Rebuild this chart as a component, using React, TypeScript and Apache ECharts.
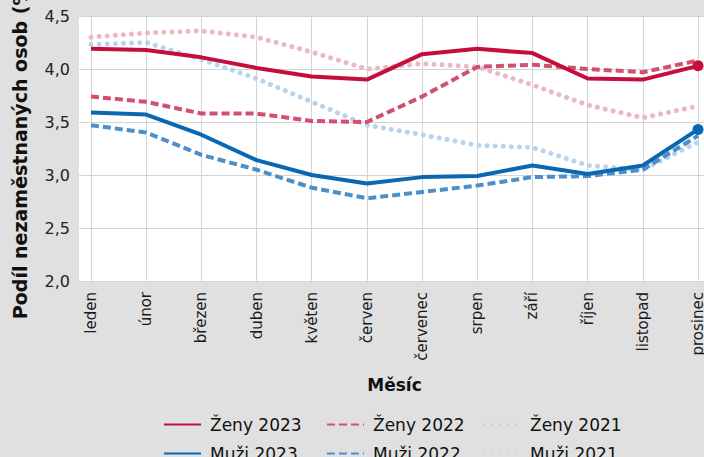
import React, { useEffect, useRef } from "react";
import * as echarts from "echarts";

const months = ["leden", "únor", "březen", "duben", "květen", "červen", "červenec", "srpen", "září", "říjen", "listopad", "prosinec"];
const zeny2023 = [4.19, 4.18, 4.11, 4.01, 3.93, 3.90, 4.14, 4.19, 4.15, 3.91, 3.90, 4.03];
const zeny2022 = [3.74, 3.69, 3.58, 3.58, 3.51, 3.50, 3.74, 4.02, 4.04, 4.00, 3.97, 4.08];
const zeny2021 = [4.30, 4.34, 4.36, 4.30, 4.16, 4.00, 4.05, 4.02, 3.85, 3.66, 3.54, 3.65];
const muzi2023 = [3.59, 3.57, 3.38, 3.14, 3.00, 2.92, 2.98, 2.99, 3.09, 3.01, 3.09, 3.43];
const muzi2022 = [3.47, 3.40, 3.19, 3.05, 2.88, 2.78, 2.84, 2.90, 2.98, 2.99, 3.05, 3.37];
const muzi2021 = [4.23, 4.25, 4.09, 3.91, 3.69, 3.47, 3.38, 3.28, 3.26, 3.09, 3.05, 3.31];
const yTicks = { min: 2, max: 4.5, interval: 0.5 };

const FONT = "DejaVu Sans";

function withEndDot(values: number[]) {
  return values.map((v, i) =>
    i === values.length - 1 ? { value: v, symbol: "circle", symbolSize: 11 } : { value: v, symbol: "none" }
  );
}

export default function App() {
  const ref = useRef<HTMLDivElement>(null);
  useEffect(() => {
    if (!ref.current) return;
    const chart = echarts.init(ref.current, undefined, { renderer: "svg" });
    const solid = (name: string, color: string, data: number[]) => ({
      name,
      type: "line",
      xAxisIndex: 0,
      yAxisIndex: 0,
      data: withEndDot(data),
      symbol: "none",
      showSymbol: true,
      itemStyle: { color },
      lineStyle: { color, width: 4, type: "solid" },
      emphasis: { disabled: true },
      z: 5,
    });
    const dashed = (name: string, color: string, data: number[]) => ({
      name,
      type: "line",
      xAxisIndex: 0,
      yAxisIndex: 0,
      data,
      symbol: "none",
      itemStyle: { color },
      lineStyle: { color, width: 4, type: [8, 4] },
      emphasis: { disabled: true },
      z: 4,
    });
    const dotted = (name: string, color: string, data: number[]) => ({
      name,
      type: "line",
      xAxisIndex: 0,
      yAxisIndex: 0,
      data,
      symbol: "none",
      itemStyle: { color },
      lineStyle: { color, width: 5, type: [0.1, 8], cap: "round" },
      emphasis: { disabled: true },
      z: 3,
    });
    const legendItem = (name: string, left: number, top: number) => ({
      orient: "horizontal",
      left,
      top,
      itemWidth: 37,
      itemHeight: 14,
      padding: 0,
      selectedMode: false,
      itemStyle: { opacity: 0 },
      textStyle: { fontFamily: FONT, fontSize: 17, lineHeight: 14, color: "#111", padding: [0, 0, 0, 4] },
      data: [name],
    });
    chart.setOption({
      animation: false,
      backgroundColor: "#e0e0e0",
      textStyle: { fontFamily: FONT },
      grid: [
        { left: 91, right: 6, top: 16, bottom: 176, outerBoundsMode: "none", containLabel: false },
        {
          left: 79,
          right: 0,
          top: 16,
          bottom: 176,
          show: true,
          backgroundColor: "#ffffff",
          borderWidth: 0,
          z: 0,
          outerBoundsMode: "none",
          containLabel: false,
        },
      ],
      legend: [
        legendItem("Ženy 2023", 163, 416),
        legendItem("Muži 2023", 163, 445),
        legendItem("Ženy 2022", 326, 416),
        legendItem("Muži 2022", 326, 445),
        legendItem("Ženy 2021", 483, 416),
        legendItem("Muži 2021", 483, 445),
      ],
      xAxis: [
        {
          gridIndex: 0,
          type: "category",
          data: months,
          boundaryGap: false,
          axisLine: { show: false },
          axisTick: { show: false },
          splitLine: { show: true, lineStyle: { color: "#d4d4d4", width: 1 } },
          axisLabel: { rotate: 90, fontFamily: FONT, fontSize: 15, color: "#1a1a1a", margin: 11, interval: 0 },
          name: "Měsíc",
          nameLocation: "middle",
          nameGap: 95,
          nameTextStyle: { fontFamily: FONT, fontSize: 17, fontWeight: "bold", color: "#111" },
        },
        { gridIndex: 1, type: "value", show: false, min: 0, max: 1 },
      ],
      yAxis: [
        { gridIndex: 0, type: "value", min: yTicks.min, max: yTicks.max, show: false, splitLine: { show: false } },
        {
          gridIndex: 1,
          type: "value",
          min: yTicks.min,
          max: yTicks.max,
          interval: yTicks.interval,
          axisLine: { show: false },
          axisTick: { show: false },
          splitLine: { show: true, lineStyle: { color: "#d4d4d4", width: 1 } },
          axisLabel: {
            fontFamily: FONT,
            fontSize: 16,
            color: "#222",
            margin: 9,
            formatter: (v: number) => v.toFixed(1).replace(".", ","),
          },
          name: "Podíl nezaměstnaných osob (%)",
          nameLocation: "middle",
          nameGap: 50,
          nameTextStyle: { fontFamily: FONT, fontSize: 19, fontWeight: "bold", color: "#111" },
        },
      ],
      series: [
        dotted("Ženy 2021", "#ebb8c5", zeny2021),
        dotted("Muži 2021", "#b8d4ec", muzi2021),
        dashed("Ženy 2022", "#d2506e", zeny2022),
        dashed("Muži 2022", "#4b8fcb", muzi2022),
        solid("Ženy 2023", "#c40f3e", zeny2023),
        solid("Muži 2023", "#0a68b3", muzi2023),
      ],
    });
    return () => chart.dispose();
  }, []);
  return <div ref={ref} style={{ position: "absolute", left: 0, top: 0, width: 704, height: 457 }} />;
}
